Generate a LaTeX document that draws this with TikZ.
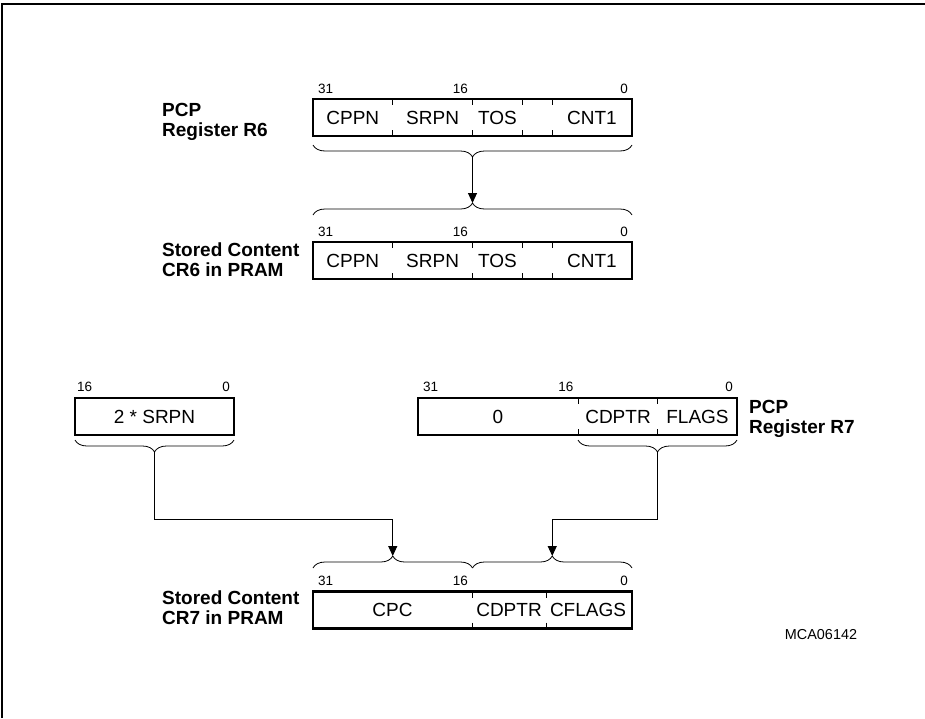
\documentclass[tikz,border=0pt]{standalone}
\usepackage{fontspec}
\setmainfont{Liberation Sans}
\usetikzlibrary{decorations.pathreplacing,arrows.meta}
\begin{document}
\begin{tikzpicture}[x=1pt,y=-1pt,
 regbox/.style={draw, line width=2.4pt, minimum height=37pt, inner sep=0pt},
 fieldtxt/.style={font=\fontsize{19}{22}\selectfont, inner sep=0pt, text height=13.6pt, text depth=0pt},
 bitlbl/.style={font=\fontsize{13.5}{15}\selectfont, inner sep=0pt},
 bitL/.style={bitlbl, anchor=base west},
 bitR/.style={bitlbl, anchor=base east},
 reglbl/.style={font=\fontsize{19}{22}\selectfont\bfseries, inner sep=0pt, anchor=base west},
 regtick/.style={line width=0.8pt},
 bracedec/.style={decorate, decoration={brace, amplitude=12pt}, line width=0.8pt},
 conn/.style={line width=1pt},
 arr/.style={conn, -{Triangle[length=10pt,width=9pt]}},
 frameline/.style={line width=1.3pt},
 idtxt/.style={font=\fontsize{14.4}{16}\selectfont, inner sep=0pt}
]
\useasboundingbox (0,0) rectangle (925,718);
\draw[frameline] (2,718) -- (2,4) -- (925,4);

% ---------- PCP Register R6 ----------
\node[regbox, minimum width=319pt] (r6) at (472.5,117.5) {};
\foreach \x in {392.7,472.5,522.4,552.3}{
  \draw[regtick] (\x,99) -- (\x,105);
  \draw[regtick] (\x,130) -- (\x,136);
}
\node[fieldtxt] (r6a) at (352.8,117.5) {CPPN};
\node[fieldtxt] (r6b) at (432.6,117.5) {SRPN};
\node[fieldtxt] (r6c) at (497.5,117.5) {TOS};
\node[fieldtxt] (r6d) at (592,117.5) {CNT1};
\node[bitL] (r6n31) at (318,93) {31};
\node[bitR] (r6n16) at (468,93) {16};
\node[bitR] (r6n0) at (628,93) {0};
\node[reglbl] (r6l1) at (162,116) {PCP};
\node[reglbl] (r6l2) at (162,136.5) {Register R6};
\coordinate (r6bl) at (313,145);
\coordinate (r6br) at (632,145);
\coordinate (r6tip) at (472.5,157);
\draw[bracedec] (r6br) -- (r6bl);

% ---------- Stored Content CR6 ----------
\node[regbox, minimum width=319pt] (cr6) at (472.5,260.5) {};
\foreach \x in {392.7,472.5,522.4,552.3}{
  \draw[regtick] (\x,242) -- (\x,248);
  \draw[regtick] (\x,273) -- (\x,279);
}
\node[fieldtxt] (cr6a) at (352.8,260.5) {CPPN};
\node[fieldtxt] (cr6b) at (432.6,260.5) {SRPN};
\node[fieldtxt] (cr6c) at (497.5,260.5) {TOS};
\node[fieldtxt] (cr6d) at (592,260.5) {CNT1};
\node[bitL] (cr6n31) at (318,236) {31};
\node[bitR] (cr6n16) at (468,236) {16};
\node[bitR] (cr6n0) at (628,236) {0};
\node[reglbl] (cr6l1) at (162,256) {Stored Content};
\node[reglbl] (cr6l2) at (162,276.5) {CR6 in PRAM};
\coordinate (cr6bl) at (313,215);
\coordinate (cr6br) at (632,215);
\coordinate (cr6tip) at (472.5,203);
\draw[bracedec] (cr6bl) -- (cr6br);
\draw[arr] (r6tip) -- (cr6tip);

% ---------- 2 * SRPN ----------
\node[regbox, minimum width=159pt] (sr) at (154.5,416.5) {};
\node[fieldtxt] (srt) at (154.5,416.5) {2 * SRPN};
\node[bitL] (srn16) at (77,391) {16};
\node[bitR] (srn0) at (230,391) {0};
\coordinate (srbl) at (75,440);
\coordinate (srbr) at (234,440);
\coordinate (srtip) at (154.5,452);
\draw[bracedec] (srbr) -- (srbl);

% ---------- PCP Register R7 ----------
\node[regbox, minimum width=319pt] (r7) at (577.5,416.5) {};
\foreach \x in {578,657.5}{
  \draw[regtick] (\x,398) -- (\x,404);
  \draw[regtick] (\x,429) -- (\x,435);
}
\node[fieldtxt] (r7a) at (498,416.5) {0};
\node[fieldtxt] (r7b) at (618,416.5) {CDPTR};
\node[fieldtxt] (r7c) at (697.5,416.5) {FLAGS};
\node[bitL] (r7n31) at (423,391) {31};
\node[bitR] (r7n16) at (573.5,391) {16};
\node[bitR] (r7n0) at (733,391) {0};
\node[reglbl] (r7l1) at (749,413) {PCP};
\node[reglbl] (r7l2) at (749,433.5) {Register R7};
\coordinate (r7bl) at (578,440);
\coordinate (r7br) at (737,440);
\coordinate (r7tip) at (657.5,452);
\draw[bracedec] (r7br) -- (r7bl);

% ---------- Stored Content CR7 ----------
\node[regbox, minimum width=319pt] (cr7) at (472.5,610) {};
\foreach \x in {472.5,546}{
  \draw[regtick] (\x,591.5) -- (\x,597.5);
  \draw[regtick] (\x,622.5) -- (\x,628.5);
}
\node[fieldtxt] (cr7a) at (392.5,610) {CPC};
\node[fieldtxt] (cr7b) at (509,610) {CDPTR};
\node[fieldtxt] (cr7c) at (588,610) {CFLAGS};
\node[bitL] (cr7n31) at (318,585) {31};
\node[bitR] (cr7n16) at (468,585) {16};
\node[bitR] (cr7n0) at (628,585) {0};
\node[reglbl] (cr7l1) at (162,604) {Stored Content};
\node[reglbl] (cr7l2) at (162,624.5) {CR7 in PRAM};
\coordinate (cr7al) at (313,568);
\coordinate (cr7ar) at (472.5,568);
\coordinate (cr7atip) at (392.75,556);
\coordinate (cr7bl) at (472.5,568);
\coordinate (cr7br) at (632,568);
\coordinate (cr7btip) at (552.25,556);
\draw[bracedec] (cr7al) -- (cr7ar);
\draw[bracedec] (cr7bl) -- (cr7br);

% ---------- connectors ----------
\draw[arr] (srtip) |- (392.75,519) -- (cr7atip);
\draw[arr] (r7tip) |- (552.25,519) -- (cr7btip);

\node[idtxt] (id) at (821,635) {MCA06142};
\end{tikzpicture}
\end{document}
